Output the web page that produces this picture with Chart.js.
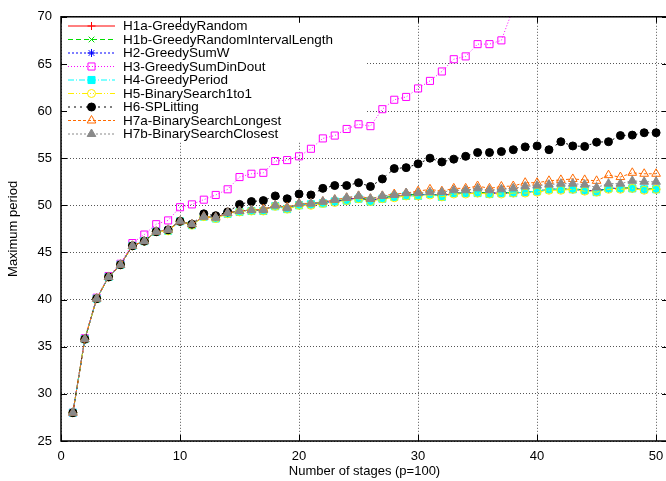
<!DOCTYPE html>
<html>
<head>
<meta charset="utf-8">
<script src="https://cdn.jsdelivr.net/npm/chart.js@4/dist/chart.umd.min.js"></script>
<style>
  html, body { margin: 0; padding: 0; background: #fff; overflow: hidden; }
  canvas { display: block; }
</style>
</head>
<body>
<canvas id="myChart" width="680" height="481"></canvas>
<script>
      // number of stages (x axis)
      let stages = [1, 2, 3, 4, 5, 6, 7, 8, 9, 10, 11, 12, 13, 14, 15, 16, 17, 18, 19, 20,
        21, 22, 23, 24, 25, 26, 27, 28, 29, 30, 31, 32, 33, 34, 35, 36, 37, 38, 39, 40,
        41, 42, 43, 44, 45, 46, 47, 48, 49, 50];

      let xTicks = [0, 10, 20, 30, 40, 50];

      let seriesNames = [
        "H1a-GreedyRandom",
        "H1b-GreedyRandomIntervalLength",
        "H2-GreedySumW",
        "H3-GreedySumDinDout",
        "H4-GreedyPeriod",
        "H5-BinarySearch1to1",
        "H6-SPLitting",
        "H7a-BinarySearchLongest",
        "H7b-BinarySearchClosest",
      ];

      let h1a = [28.0, 35.8, 40.1, 42.4, 43.7, 45.7, 46.2, 47.2, 47.4, 48.3, 48.0, 48.8, 48.7, 49.2, 49.4, 49.5, 49.5, 50.0, 49.7, 50.1,
        50.1, 50.3, 50.4, 50.6, 50.8, 50.5, 50.8, 50.9, 51.1, 51.1, 51.2, 51.0, 51.3, 51.3, 51.3, 51.3, 51.3, 51.3, 51.4, 51.5,
        51.7, 51.7, 51.7, 51.6, 51.5, 51.8, 51.8, 51.8, 51.7, 51.7];
      let h1b = [28.0, 35.8, 40.1, 42.4, 43.7, 45.7, 46.2, 47.2, 47.4, 48.3, 48.0, 48.8, 48.7, 49.2, 49.4, 49.5, 49.5, 50.0, 49.7, 50.1,
        50.2, 50.3, 50.5, 50.6, 50.8, 50.6, 50.8, 51.0, 51.1, 51.2, 51.2, 51.0, 51.3, 51.3, 51.4, 51.3, 51.3, 51.4, 51.4, 51.5,
        51.7, 51.7, 51.8, 51.6, 51.5, 51.8, 51.8, 51.9, 51.7, 51.8];
      let h2 = [28.0, 35.8, 40.1, 42.4, 43.7, 45.7, 46.2, 47.2, 47.4, 48.3, 48.0, 48.8, 48.7, 49.2, 49.4, 49.5, 49.5, 50.0, 49.7, 50.1,
        50.1, 50.3, 50.4, 50.6, 50.8, 50.5, 50.8, 50.9, 51.1, 51.1, 51.2, 51.0, 51.3, 51.3, 51.3, 51.3, 51.3, 51.3, 51.4, 51.5,
        51.7, 51.7, 51.7, 51.6, 51.5, 51.8, 51.8, 51.8, 51.7, 51.7];
      let h3 = [28.0, 35.9, 40.2, 42.5, 43.8, 46.0, 46.9, 48.0, 48.4, 49.8, 50.1, 50.6, 51.1, 51.7, 53.0, 53.35, 53.45, 54.7, 54.8, 55.2,
        56.0, 57.1, 57.4, 58.1, 58.6, 58.4, 60.2, 61.2, 61.5, 62.4, 63.2, 64.2, 65.5, 65.8, 67.1, 67.1, 67.5, 70.9, 72.0, 73.2,
        74.1, 75.3, 76.2, 77.5, 78.4, 79.6, 80.5, 81.7, 82.6, 83.8];
      let h4 = [28.0, 35.8, 40.1, 42.4, 43.7, 45.7, 46.2, 47.2, 47.3, 48.3, 47.9, 48.8, 48.6, 49.1, 49.3, 49.4, 49.4, 49.9, 49.6, 50.0,
        50.1, 50.2, 50.4, 50.5, 50.7, 50.4, 50.7, 50.9, 51.0, 51.0, 51.2, 50.9, 51.3, 51.3, 51.3, 51.2, 51.3, 51.3, 51.4, 51.5,
        51.7, 51.7, 51.7, 51.6, 51.4, 51.8, 51.8, 51.8, 51.7, 51.7];
      let h5 = [28.0, 35.8, 40.1, 42.4, 43.7, 45.7, 46.2, 47.2, 47.3, 48.3, 47.9, 48.8, 48.6, 49.1, 49.3, 49.4, 49.4, 49.9, 49.6, 50.0,
        50.0, 50.2, 50.3, 50.5, 50.7, 50.4, 50.7, 50.8, 51.0, 51.0, 51.1, 50.9, 51.2, 51.2, 51.3, 51.2, 51.2, 51.3, 51.3, 51.4,
        51.6, 51.6, 51.7, 51.5, 51.4, 51.7, 51.7, 51.8, 51.6, 51.7];
      let h6 = [28.0, 35.8, 40.1, 42.4, 43.7, 45.7, 46.2, 47.2, 47.4, 48.3, 48.0, 49.1, 48.9, 49.3, 50.1, 50.4, 50.5, 51.0, 50.7, 51.2,
        51.1, 51.8, 52.1, 52.1, 52.4, 52.0, 52.8, 53.9, 54.0, 54.4, 55.0, 54.6, 54.9, 55.2, 55.6, 55.6, 55.7, 55.9, 56.2, 56.3,
        55.9, 56.75, 56.3, 56.25, 56.7, 56.75, 57.4, 57.45, 57.7, 57.7];
      let h7a = [28.0, 35.8, 40.1, 42.4, 43.7, 45.7, 46.2, 47.2, 47.4, 48.3, 48.0, 48.8, 48.7, 49.2, 49.4, 49.5, 49.6, 50.0, 49.8, 50.2,
        50.2, 50.4, 50.6, 50.8, 51.0, 50.7, 51.0, 51.2, 51.3, 51.5, 51.7, 51.5, 51.8, 51.8, 52.05, 51.8, 52.0, 52.05, 52.4, 52.4,
        52.6, 52.7, 52.8, 52.7, 52.6, 53.2, 53.0, 53.45, 53.35, 53.35];
      let h7b = [28.0, 35.8, 40.1, 42.4, 43.7, 45.7, 46.2, 47.2, 47.4, 48.3, 48.0, 48.8, 48.7, 49.2, 49.4, 49.5, 49.5, 50.0, 49.7, 50.2,
        50.2, 50.4, 50.6, 50.8, 51.0, 50.7, 51.0, 51.1, 51.3, 51.3, 51.4, 51.4, 51.6, 51.6, 51.8, 51.6, 51.7, 51.8, 52.0, 52.1,
        52.2, 52.3, 52.3, 52.2, 51.9, 52.3, 52.3, 52.6, 52.5, 52.5];

      let allSeries = [h1a, h1b, h2, h3, h4, h5, h6, h7a, h7b];

      // look of each series (gnuplot-like)
      let styles = [
        { color: "#ff0000", dash: [], point: "cross", fill: false, r: 4 },
        { color: "#00dd00", dash: [5, 3], point: "crossRot", fill: false, r: 4 },
        { color: "#0000ff", dash: [2, 2], point: "star", fill: false, r: 4 },
        { color: "#ff00ff", dash: [1, 2], point: "rect", fill: false, r: 5 },
        { color: "#00ffff", dash: [6, 2, 1, 2], point: "rect", fill: true, r: 5 },
        { color: "#ffee00", dash: [6, 2, 1, 2, 1, 2], point: "circle", fill: false, r: 4 },
        { color: "#000000", dash: [2, 4], point: "circle", fill: true, r: 4 },
        { color: "#ff6a00", dash: [3, 2], point: "triangle", fill: false, r: 5 },
        { color: "#8a8a8a", dash: [2, 2], point: "triangle", fill: true, r: 5 },
      ];

      let font = "Liberation Sans, Arial, sans-serif";

      let datasets = [];
      for (let i = 0; i < allSeries.length; i++) {
        let st = styles[i];
        let pts = [];
        for (let j = 0; j < stages.length; j++) {
          pts.push({ x: stages[j], y: allSeries[i][j] });
        }
        datasets.push({
          label: seriesNames[i],
          data: pts,
          borderColor: st.color,
          backgroundColor: st.fill ? st.color : "rgba(0,0,0,0)",
          borderWidth: 1,
          borderDash: st.dash,
          pointStyle: st.point,
          pointRadius: st.r,
          pointBorderWidth: 1,
          pointBorderColor: st.color,
          pointBackgroundColor: st.fill ? st.color : "rgba(0,0,0,0)",
          tension: 0,
          clip: 0,
          order: allSeries.length - i, // later series on top, like gnuplot
        });
      }

      function drawMarker(ctx, st, x, y) {
        ctx.save();
        ctx.setLineDash([]);
        ctx.strokeStyle = st.color;
        ctx.fillStyle = st.fill ? st.color : "rgba(0,0,0,0)";
        ctx.lineWidth = 1;
        Chart.helpers.drawPoint(ctx, { pointStyle: st.point, radius: st.r, borderWidth: 1, rotation: 0 }, x, y);
        ctx.restore();
      }

      // gnuplot style key inside the plot, top left, opaque
      let keyPlugin = {
        id: "gnukey",
        beforeDatasetsDraw(chart) {
          let ctx = chart.ctx;
          let a = chart.chartArea;
          ctx.save();
          ctx.fillStyle = "#fff";
          ctx.fillRect(a.left + 1, a.top + 1, 365 - a.left, 140 - a.top);
          ctx.font = "13.5px " + font;
          ctx.textBaseline = "middle";
          ctx.textAlign = "left";
          for (let i = 0; i < seriesNames.length; i++) {
            let st = styles[i];
            let y = 26 + i * 13.5;
            ctx.beginPath();
            ctx.setLineDash(st.dash);
            ctx.strokeStyle = st.color;
            ctx.lineWidth = 1;
            ctx.moveTo(68, y);
            ctx.lineTo(115, y);
            ctx.stroke();
            drawMarker(ctx, st, 91.5, y);
            ctx.setLineDash([]);
            ctx.fillStyle = "#000";
            ctx.fillText(seriesNames[i], 123, y + 0.5);
          }
          ctx.restore();
        },
        afterDraw(chart) {
          let ctx = chart.ctx;
          let a = chart.chartArea;
          let xs = chart.scales.x;
          let ys = chart.scales.y;
          ctx.save();
          ctx.setLineDash([]);
          ctx.strokeStyle = "#000";
          ctx.lineWidth = 1.5;
          ctx.strokeRect(a.left, a.top, a.right - a.left, a.bottom - a.top);
          ctx.lineWidth = 1;
          ctx.beginPath();
          xs.ticks.forEach(function (t) {
            let px = Math.round(xs.getPixelForValue(t.value)) + 0.5;
            ctx.moveTo(px, a.bottom);
            ctx.lineTo(px, a.bottom - 6);
            ctx.moveTo(px, a.top);
            ctx.lineTo(px, a.top + 6);
          });
          ys.ticks.forEach(function (t) {
            let py = Math.round(ys.getPixelForValue(t.value)) + 0.5;
            ctx.moveTo(a.left, py);
            ctx.lineTo(a.left + 6, py);
            ctx.moveTo(a.right, py);
            ctx.lineTo(a.right - 6, py);
          });
          ctx.stroke();
          ctx.restore();
        },
      };

      let ctx = document.getElementById("myChart").getContext("2d");
      let chart = new Chart(ctx, {
        type: "line",
        data: { datasets: datasets },
        plugins: [keyPlugin],
        options: {
          responsive: false,
          animation: false,
          devicePixelRatio: 1,
          layout: { padding: { top: 13, right: 12, left: 0, bottom: 0 } },
          plugins: {
            legend: { display: false },
            tooltip: { enabled: false },
          },
          scales: {
            x: {
              type: "linear",
              min: 0,
              max: 51,
              afterBuildTicks: function (scale) {
                scale.ticks = xTicks.map(function (v) { return { value: v }; });
              },
              afterFit: function (scale) { scale.height = 40; },
              ticks: {
                autoSkip: false,
                maxRotation: 0,
                padding: 8,
                color: "#000",
                font: { family: font, size: 13 },
              },
              grid: { color: "#555", lineWidth: 1, drawTicks: false },
              border: { display: false, dash: [1, 2] },
              title: {
                display: true,
                text: "Number of stages (p=100)",
                color: "#000",
                font: { family: font, size: 13 },
                padding: { top: 0, bottom: 2 },
              },
            },
            y: {
              min: 25,
              max: 70,
              afterFit: function (scale) { scale.width = 61; },
              ticks: {
                stepSize: 5,
                padding: 9,
                color: "#000",
                font: { family: font, size: 13 },
              },
              grid: { color: "#555", lineWidth: 1, drawTicks: false },
              border: { display: false, dash: [1, 2] },
              title: {
                display: true,
                text: "Maximum period",
                color: "#000",
                font: { family: font, size: 13 },
                padding: { top: 6, bottom: 0 },
              },
            },
          },
        },
      });
</script>
</body>
</html>
